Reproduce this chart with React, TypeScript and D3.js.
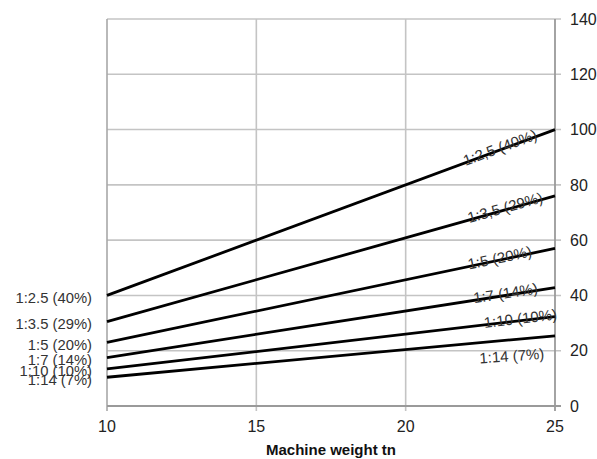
import React, { useEffect, useRef } from 'react';
import * as d3 from 'd3';

// machine weight (tn) at the two ends of each line
const weights = [10, 25];
const ratioNames = ['1:2.5', '1:3.5', '1:5', '1:7', '1:10', '1:14'];
const shares = ['40%', '29%', '20%', '14%', '10%', '7%'];
const rightNames = ['1:2,5', '1:3,5', '1:5', '1:7', '1:10', '1:14'];
const forceValues = [
  [40, 100],
  [30.5, 76],
  [23, 57],
  [17.5, 42.8],
  [13.4, 32.3],
  [10.4, 25.4],
];
const xTicks = [10, 15, 20, 25];
const yTicks = [0, 20, 40, 60, 80, 100, 120, 140];

// where the sloped labels end (in machine weight) and how far below the line
const labelEnd = [24.4, 24.6, 24.23, 24.43, 25.07, 24.6];
const labelDy = [3, 3, 3, 3, 3, 22];

const W = 597;
const H = 459;
const FONT = '"Liberation Sans", Arial, sans-serif';

const Chart: React.FC = () => {
  const svgRef = useRef<SVGSVGElement>(null);

  useEffect(() => {
    if (!svgRef.current) return;
    const svg = d3.select(svgRef.current);
    svg.selectAll('*').remove();

    const x = d3.scaleLinear().domain([10, 25]).range([107, 555]);
    const y = d3.scaleLinear().domain([0, 140]).range([406, 19]);

    // horizontal grid
    svg.append('g')
      .selectAll('line')
      .data(yTicks.slice(1))
      .enter()
      .append('line')
      .attr('x1', x(10))
      .attr('x2', x(25) + 6)
      .attr('y1', d => y(d))
      .attr('y2', d => y(d))
      .attr('stroke', '#c4c4c4')
      .attr('stroke-width', 1.6);

    // vertical grid
    svg.append('g')
      .selectAll('line')
      .data(xTicks.slice(1, 3))
      .enter()
      .append('line')
      .attr('x1', d => x(d))
      .attr('x2', d => x(d))
      .attr('y1', y(140))
      .attr('y2', y(0) + 5)
      .attr('stroke', '#c4c4c4')
      .attr('stroke-width', 1.6);

    // axes
    svg.append('line')
      .attr('x1', x(10)).attr('x2', x(10))
      .attr('y1', y(140)).attr('y2', y(0) + 5)
      .attr('stroke', '#a8a8a8').attr('stroke-width', 1.6);
    svg.append('line')
      .attr('x1', x(25)).attr('x2', x(25))
      .attr('y1', y(140)).attr('y2', y(0) + 5)
      .attr('stroke', '#9a9a9a').attr('stroke-width', 1.8);
    svg.append('line')
      .attr('x1', x(10)).attr('x2', x(25) + 6)
      .attr('y1', y(0)).attr('y2', y(0))
      .attr('stroke', '#9a9a9a').attr('stroke-width', 1.8);

    // x tick labels
    svg.append('g')
      .selectAll('text')
      .data(xTicks)
      .enter()
      .append('text')
      .attr('x', d => x(d))
      .attr('y', 432)
      .attr('text-anchor', 'middle')
      .attr('font-family', FONT)
      .attr('font-size', 16)
      .attr('fill', '#222')
      .text(d => d);

    // y tick labels on the right
    svg.append('g')
      .selectAll('text')
      .data(yTicks)
      .enter()
      .append('text')
      .attr('x', 570)
      .attr('y', d => y(d))
      .attr('dy', '0.36em')
      .attr('font-family', FONT)
      .attr('font-size', 16)
      .attr('fill', '#222')
      .text(d => d);

    svg.append('text')
      .attr('x', x(17.5))
      .attr('y', 455)
      .attr('text-anchor', 'middle')
      .attr('font-family', FONT)
      .attr('font-size', 15)
      .attr('font-weight', 'bold')
      .attr('fill', '#111')
      .text('Machine weight tn');

    const line = d3.line<number>()
      .x((d, i) => x(weights[i]))
      .y(d => y(d));

    svg.append('g')
      .selectAll('path')
      .data(forceValues)
      .enter()
      .append('path')
      .attr('fill', 'none')
      .attr('stroke', '#000')
      .attr('stroke-width', 2.8)
      .attr('d', d => line(d));

    // labels at the start of each line (they overlap in the original too)
    svg.append('g')
      .selectAll('text')
      .data(forceValues)
      .enter()
      .append('text')
      .attr('x', x(10) - 15)
      .attr('y', d => y(d[0]) + 2)
      .attr('dy', '0.36em')
      .attr('text-anchor', 'end')
      .attr('font-family', FONT)
      .attr('font-size', 14.8)
      .attr('fill', '#333')
      .text((d, i) => `${ratioNames[i]} (${shares[i]})`);

    // sloped labels near the end of each line
    svg.append('g')
      .selectAll('text')
      .data(forceValues)
      .enter()
      .append('text')
      .attr('transform', (d, i) => {
        const t = (labelEnd[i] - weights[0]) / (weights[1] - weights[0]);
        const v = d[0] + t * (d[1] - d[0]);
        const px = x(labelEnd[i]);
        const py = y(v);
        let angle = Math.atan2(y(d[1]) - y(d[0]), x(weights[1]) - x(weights[0])) * 180 / Math.PI;
        if (i === 5) angle = -4;
        return `translate(${px},${py}) rotate(${angle})`;
      })
      .attr('dy', (d, i) => labelDy[i])
      .attr('text-anchor', 'end')
      .attr('font-family', FONT)
      .attr('font-size', 15)
      .attr('fill', '#333')
      .text((d, i) => `${rightNames[i]} (${shares[i]})`);
  }, []);

  return (
    <svg
      ref={svgRef}
      width={W}
      height={H}
      style={{ position: 'absolute', left: 0, top: 0, background: '#fff' }}
    />
  );
};

export default function App() {
  return <Chart />;
}
